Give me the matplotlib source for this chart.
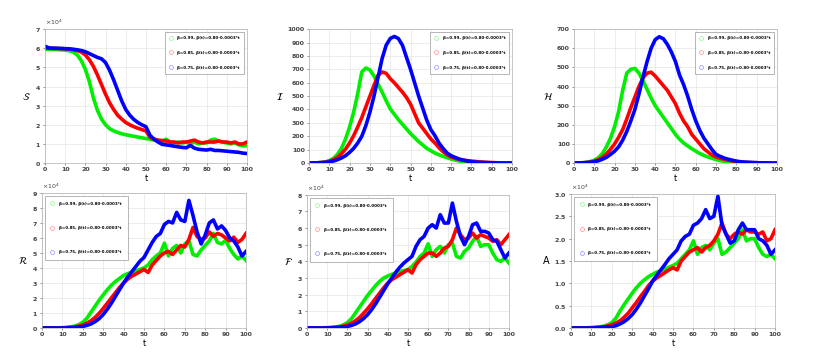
import numpy as np
import matplotlib
matplotlib.use("Agg")
import matplotlib.pyplot as plt
from matplotlib.ticker import ScalarFormatter

# time grid (every 2 days)
t = np.arange(0, 101, 2)

labels = ["β=0.99, β(t)=0.80-0.0003*t",
          "β=0.85, β(t)=0.80-0.0003*t",
          "β=0.75, β(t)=0.80-0.0003*t"]
colors = ["#00ee00", "#ff0000", "#0000ff"]

# S (x10^4)
s_green = [5.95, 5.95, 5.94, 5.93, 5.92, 5.90, 5.87, 5.80, 5.65, 5.35, 4.90, 4.25, 3.40, 2.75, 2.30, 2.00, 1.80,
           1.68, 1.60, 1.53, 1.48, 1.44, 1.40, 1.36, 1.32, 1.28, 1.25, 1.20, 1.15, 1.12, 1.25, 1.10, 1.05, 1.10,
           1.05, 1.10, 1.00, 1.10, 1.00, 1.05, 1.05, 1.20, 1.25, 1.15, 1.10, 1.05, 1.00, 1.05, 0.95, 0.90, 0.90]
s_red = [6.00, 6.00, 6.00, 5.99, 5.98, 5.97, 5.95, 5.92, 5.88, 5.80, 5.65, 5.40, 5.05, 4.60, 4.10, 3.60, 3.15,
         2.80, 2.50, 2.30, 2.12, 2.00, 1.90, 1.82, 1.75, 1.68, 1.35, 1.25, 1.20, 1.18, 1.15, 1.10, 1.10, 1.05,
         1.10, 1.10, 1.15, 1.20, 1.10, 1.05, 1.10, 1.10, 1.10, 1.15, 1.10, 1.10, 1.05, 1.10, 1.00, 1.00, 1.10]
s_blue = [6.10, 6.02, 6.00, 6.00, 5.99, 5.98, 5.97, 5.95, 5.92, 5.88, 5.82, 5.72, 5.62, 5.52, 5.45, 5.25, 4.85,
          4.35, 3.80, 3.25, 2.80, 2.50, 2.28, 2.12, 2.00, 1.90, 1.45, 1.25, 1.10, 0.98, 0.95, 0.92, 0.88, 0.85,
          0.82, 0.80, 0.92, 0.78, 0.72, 0.70, 0.68, 0.72, 0.66, 0.66, 0.64, 0.62, 0.60, 0.58, 0.56, 0.52, 0.50]

# I
i_green = [0, 1, 2, 4, 8, 18, 35, 65, 110, 180, 270, 380, 520, 680, 710, 695, 650, 590, 530, 465, 405, 365, 325,
           290, 255, 220, 190, 160, 135, 110, 92, 75, 62, 50, 40, 30, 22, 15, 10, 6, 4, 3, 2, 1, 1, 0, 0, 0, 0, 0, 0]
i_red = [0, 1, 2, 4, 7, 14, 25, 42, 70, 105, 150, 205, 270, 340, 420, 500, 580, 655, 680, 670, 630, 600, 565,
         530, 490, 440, 370, 300, 260, 220, 180, 150, 115, 85, 62, 45, 35, 27, 22, 18, 15, 12, 9, 7, 5, 4, 3, 2,
         1, 1, 0]
i_blue = [0, 1, 2, 3, 5, 9, 15, 25, 38, 55, 80, 110, 150, 200, 280, 380, 500, 640, 780, 880, 930, 945, 930, 880,
          790, 700, 600, 500, 410, 320, 250, 205, 150, 110, 75, 55, 42, 30, 22, 15, 10, 7, 5, 4, 3, 2, 1, 1, 0, 0, 0]

# H
h_green = [0, 1, 2, 4, 8, 15, 28, 50, 85, 130, 190, 270, 380, 470, 490, 495, 470, 430, 385, 340, 300, 270, 240,
           210, 180, 150, 125, 105, 90, 75, 62, 50, 40, 32, 25, 18, 13, 9, 6, 4, 3, 2, 1, 1, 0, 0, 0, 0, 0, 0, 0]
h_red = [0, 1, 1, 3, 5, 10, 18, 30, 48, 72, 100, 135, 175, 230, 290, 345, 400, 445, 470, 475, 455, 430, 405,
         380, 345, 310, 260, 220, 190, 150, 125, 100, 75, 58, 42, 32, 25, 20, 15, 11, 8, 6, 4, 3, 2, 2, 1, 1, 0,
         0, 0]
h_blue = [0, 1, 1, 2, 4, 7, 12, 20, 30, 45, 62, 85, 120, 165, 220, 280, 360, 450, 530, 600, 645, 660, 650, 620,
          580, 530, 460, 410, 350, 280, 220, 170, 130, 100, 70, 45, 35, 26, 20, 15, 10, 7, 5, 4, 3, 2, 1, 1, 0, 0, 0]

# R (x10^4)
r_green = [0, 0, 0, 0, 0.01, 0.02, 0.04, 0.07, 0.12, 0.22, 0.38, 0.65, 1.05, 1.45, 1.85, 2.2, 2.55, 2.85, 3.1,
           3.3, 3.5, 3.62, 3.72, 3.82, 3.9, 4.0, 4.2, 4.55, 4.8, 5.0, 5.65, 4.8, 5.3, 5.5, 5.0, 5.6, 5.8, 4.9, 4.8,
           5.2, 5.5, 5.8, 6.3, 5.7, 5.6, 5.85, 5.3, 4.9, 4.6, 4.8, 4.5]
r_red = [0, 0, 0, 0, 0, 0.01, 0.02, 0.04, 0.07, 0.12, 0.2, 0.32, 0.48, 0.7, 0.98, 1.3, 1.65, 2.0, 2.35, 2.7, 3.0,
         3.25, 3.45, 3.6, 3.75, 3.9, 3.7, 4.2, 4.5, 4.8, 5.0, 5.1, 4.9, 5.2, 5.5, 5.4, 5.9, 6.7, 6.1, 5.9, 6.0,
         6.4, 6.1, 6.3, 6.2, 6.0, 5.8, 6.05, 5.7, 5.9, 6.3]
r_blue = [0, 0, 0, 0, 0, 0, 0.01, 0.02, 0.03, 0.06, 0.1, 0.17, 0.27, 0.42, 0.62, 0.9, 1.25, 1.65, 2.1, 2.55, 3.0,
          3.4, 3.75, 4.1, 4.45, 4.7, 5.2, 5.7, 6.1, 6.3, 6.9, 7.1, 7.0, 7.7, 7.2, 7.1, 8.5, 7.5, 6.4, 5.6, 6.2,
          7.0, 7.2, 6.6, 6.8, 6.5, 6.0, 5.8, 5.4, 4.8, 5.1]

# F (x10^4)
f_green = [0, 0, 0, 0, 0.01, 0.02, 0.03, 0.06, 0.1, 0.18, 0.32, 0.55, 0.9, 1.25, 1.6, 1.95, 2.25, 2.55, 2.8, 3.0,
           3.12, 3.22, 3.3, 3.38, 3.45, 3.5, 3.7, 3.95, 4.3, 4.5, 5.05, 4.3, 4.7, 4.9, 4.5, 5.0, 5.1, 4.3, 4.2, 4.6,
           4.8, 5.2, 5.5, 4.9, 5.0, 5.0, 4.5, 4.1, 4.0, 4.2, 3.9]
f_red = [0, 0, 0, 0, 0, 0.01, 0.02, 0.04, 0.06, 0.11, 0.18, 0.28, 0.43, 0.62, 0.88, 1.15, 1.45, 1.78, 2.1, 2.42,
         2.7, 2.9, 3.05, 3.2, 3.35, 3.5, 3.3, 3.8, 4.1, 4.3, 4.5, 4.5, 4.3, 4.5, 4.8, 4.9, 5.3, 6.0, 5.6, 5.3, 5.4,
         5.7, 5.4, 5.6, 5.5, 5.4, 5.2, 5.3, 5.0, 5.3, 5.6]
f_blue = [0, 0, 0, 0, 0, 0, 0.01, 0.02, 0.03, 0.05, 0.09, 0.15, 0.24, 0.38, 0.56, 0.8, 1.1, 1.45, 1.85, 2.25, 2.65,
          3.0, 3.35, 3.65, 3.9, 4.1, 4.3, 4.9, 5.3, 5.5, 6.0, 6.2, 6.0, 6.8, 6.3, 6.3, 7.5, 6.4, 5.5, 5.0, 5.5,
          6.2, 6.3, 5.8, 5.8, 5.7, 5.3, 5.2, 4.7, 4.2, 4.5]

# A (x10^4)
a_green = [0, 0, 0, 0, 0.005, 0.01, 0.015, 0.025, 0.04, 0.07, 0.12, 0.22, 0.38, 0.52, 0.65, 0.78, 0.9, 1.0, 1.08,
           1.15, 1.2, 1.25, 1.28, 1.32, 1.36, 1.4, 1.45, 1.55, 1.65, 1.75, 1.95, 1.65, 1.8, 1.85, 1.75, 1.9, 2.0,
           1.65, 1.7, 1.8, 1.9, 2.0, 2.2, 1.95, 2.0, 2.0, 1.8, 1.65, 1.6, 1.65, 1.55]
a_red = [0, 0, 0, 0, 0, 0.005, 0.01, 0.015, 0.025, 0.045, 0.07, 0.11, 0.16, 0.24, 0.33, 0.45, 0.57, 0.7, 0.82,
         0.95, 1.05, 1.12, 1.18, 1.24, 1.3, 1.35, 1.3, 1.5, 1.6, 1.7, 1.75, 1.8, 1.7, 1.8, 1.85, 1.95, 2.1, 2.35,
         2.1, 2.0, 2.1, 2.15, 2.1, 2.2, 2.15, 2.15, 2.1, 2.15, 1.95, 2.0, 2.2]
a_blue = [0, 0, 0, 0, 0, 0, 0.005, 0.01, 0.015, 0.02, 0.03, 0.05, 0.09, 0.14, 0.21, 0.3, 0.42, 0.56, 0.72, 0.88,
          1.05, 1.18, 1.3, 1.42, 1.55, 1.65, 1.75, 1.95, 2.05, 2.1, 2.3, 2.35, 2.45, 2.65, 2.45, 2.5, 2.95, 2.3,
          2.1, 1.9, 1.95, 2.2, 2.35, 2.2, 2.2, 2.2, 2.0, 1.95, 1.85, 1.65, 1.75]

panels = [
    # (rect, series, scale, ylabel, ymax, ystep, legend loc)
    ([0.0551, 0.552, 0.2475, 0.368], [s_green, s_red, s_blue], 1e4, r"$\mathcal{S}$", 7, 1, "upper right"),
    ([0.3787, 0.552, 0.2488, 0.368], [i_green, i_red, i_blue], 1, r"$\mathcal{I}$", 1000, 100, "upper right"),
    ([0.7034, 0.552, 0.2488, 0.368], [h_green, h_red, h_blue], 1, r"$\mathcal{H}$", 700, 100, "upper right"),
    ([0.0515, 0.099, 0.2500, 0.371], [r_green, r_red, r_blue], 1e4, r"$\mathcal{R}$", 9, 1, "upper left"),
    ([0.3762, 0.099, 0.2475, 0.366], [f_green, f_red, f_blue], 1e4, r"$\mathcal{F}$", 8, 1, "upper left"),
    ([0.6998, 0.099, 0.2500, 0.368], [a_green, a_red, a_blue], 1e4, "A", 3, 0.5, "upper left"),
]

fig = plt.figure(figsize=(8.16, 3.64), dpi=100)

for rect, series, scale, ylab, ymax, ystep, loc in panels:
    ax = fig.add_axes(rect)
    for vals, c in zip(series, colors):
        ax.plot(t, np.array(vals) * scale, color=c, lw=2.6, solid_joinstyle="round")
    ax.set_xlim(0, 100)
    ax.set_ylim(0, ymax * scale)
    ax.set_xticks(np.arange(0, 101, 10))
    ax.set_yticks(np.arange(0, ymax + ystep / 2, ystep) * scale)
    if scale != 1:
        fmt = ScalarFormatter(useMathText=True)
        fmt.set_powerlimits((0, 0))
        ax.yaxis.set_major_formatter(fmt)
        ax.yaxis.get_offset_text().set_fontsize(4.5)
        ax.yaxis.get_offset_text().set_color("#444444")
    ax.grid(True, color="#e6e6e6", lw=0.5)
    ax.tick_params(labelsize=4.5, length=1.5, width=0.4, colors="#444444", pad=1.5)
    for lab in ax.get_xticklabels() + ax.get_yticklabels():
        lab.set_fontweight("bold")
    for sp in ax.spines.values():
        sp.set_color("#b0b0b0")
        sp.set_linewidth(0.5)
    ax.set_xlabel("t", fontsize=6, labelpad=1)
    ax.set_ylabel(ylab, fontsize=7, rotation=0, labelpad=6, va="center")

    # legend with pale hollow circle markers
    top_row = loc == "upper right"
    handles = [plt.Line2D([], [], ls="none", marker="o", mfc="none", mec=c, ms=2.8, mew=0.5, alpha=0.45)
               for c in colors]
    leg = ax.legend(handles, labels, loc=loc,
                    labelspacing=2.7 if top_row else 5.0,
                    borderpad=1.0 if top_row else 1.5,
                    handletextpad=1.2, handlelength=0.8, borderaxespad=0.7,
                    fancybox=False, framealpha=1,
                    prop={"size": 2.9, "weight": "bold"})
    leg.get_frame().set_edgecolor("#999999")
    leg.get_frame().set_linewidth(0.5)

fig.savefig("out.png", dpi=100)
